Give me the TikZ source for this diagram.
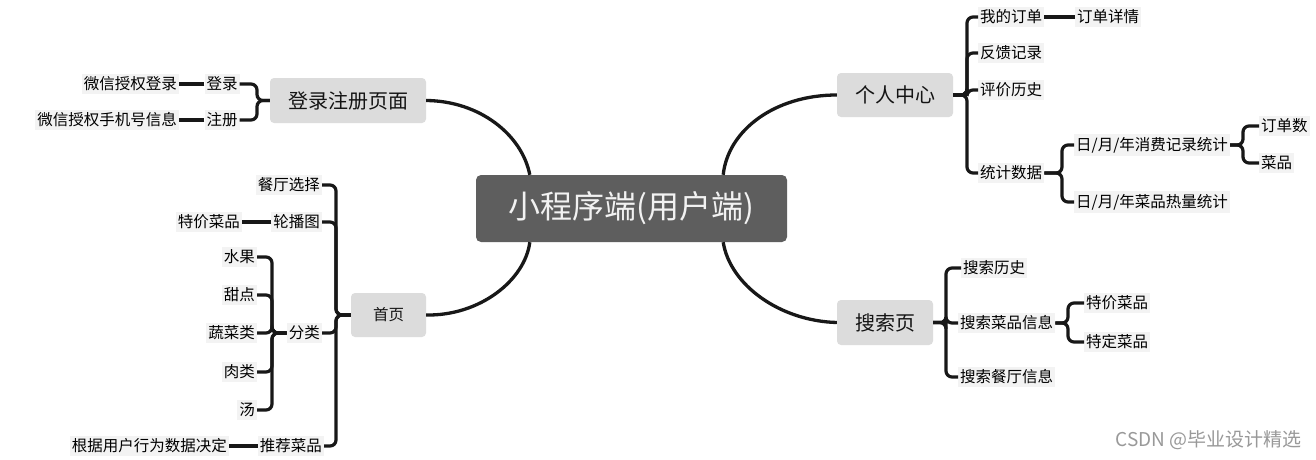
\documentclass[tikz,border=0pt]{standalone}
\usepackage{fontspec}
\setmainfont{Noto Sans CJK SC}
\usetikzlibrary{calc}
\definecolor{linec}{HTML}{181818}
\definecolor{leafbg}{HTML}{F3F3F3}
\definecolor{topicbg}{HTML}{DCDCDC}
\definecolor{rootbg}{HTML}{5E5E5E}
\begin{document}
\begin{tikzpicture}[x=1pt,y=-1pt,
  conn/.style={draw=linec,line width=3.2pt,rounded corners=6pt},
  curve/.style={draw=linec,line width=3.3pt},
  leaf/.style={fill=leafbg,inner xsep=2pt,inner ysep=3pt,font=\fontsize{15.5}{17}\selectfont,text=black},
  topic/.style={fill=topicbg,rounded corners=4pt,inner sep=0pt,font=\fontsize{20}{22}\selectfont,text=black!92},
  rootnode/.style={fill=rootbg,rounded corners=5pt,inner sep=0pt,font=\fontsize{32}{34}\selectfont,text=white!95!black}]
\useasboundingbox[fill=white] (0,0) rectangle (1316,460);

% root and topics
\node[rootnode,minimum width=311pt,minimum height=67pt] (root) at (631.5,208.5) {小程序端(用户端)};
\node[topic,minimum width=156pt,minimum height=45pt] (login) at (348,100.5) {登录注册页面};
\node[topic,minimum width=116pt,minimum height=44pt] (me) at (895,95) {个人中心};
\node[topic,minimum width=96pt,minimum height=45pt] (search) at (885,322.5) {搜索页};
\node[topic,minimum width=75pt,minimum height=44pt,font=\fontsize{15.5}{17}\selectfont] (home) at (388.5,315) {首页};

% root curves
\draw[curve] (login.east) .. controls (480,101) and (522,135) .. ($(root.north west)+(54,0)$);
\draw[curve] (home.east) .. controls (480,316) and (525,280) .. ($(root.south west)+(54,0)$);
\draw[curve] ($(root.north east)+(-64,0)$) .. controls (728,130) and (775,95) .. (me.west);
\draw[curve] ($(root.south east)+(-64,0)$) .. controls (730,285) and (780,321) .. (search.west);

% login branch
\coordinate (sp1) at (257,0);
\node[leaf] (dl) at (222,84) {登录};
\node[leaf] (zc) at (222,120) {注册};
\node[leaf,anchor=east] (wx1) at (179,84) {微信授权登录};
\node[leaf,anchor=east] (wx2) at (179,120) {微信授权手机号信息};
\draw[conn] (login.west) -- (login.west -| sp1) |- (dl.east);
\draw[conn] (login.west) -- (login.west -| sp1) |- (zc.east);
\draw[conn] (dl.west) -- (wx1.east);
\draw[conn] (zc.west) -- (wx2.east);

% home branch
\coordinate (sp2) at (336,0);
\node[leaf,anchor=east] (ct) at (322,185) {餐厅选择};
\node[leaf,anchor=east] (lbt) at (322,222) {轮播图};
\node[leaf,anchor=east] (tj1) at (242,222) {特价菜品};
\node[leaf,anchor=east] (fl) at (322,333) {分类};
\node[leaf,anchor=east] (tjcp1) at (324,446) {推荐菜品};
\node[leaf,anchor=east] (gj) at (229,446) {根据用户行为数据决定};
\draw[conn] (home.west) -- (home.west -| sp2) |- (ct.east);
\draw[conn] (home.west) -- (home.west -| sp2) |- (lbt.east);
\draw[conn] (home.west) -- (home.west -| sp2) |- (fl.east);
\draw[conn] (home.west) -- (home.west -| sp2) |- (tjcp1.east);
\draw[conn] (lbt.west) -- (tj1.east);
\draw[conn] (tjcp1.west) -- (gj.east);

% 分类 branch
\coordinate (sp3) at (272,0);
\node[leaf,anchor=east] (sg) at (257,257) {水果};
\node[leaf,anchor=east] (td) at (257,295) {甜点};
\node[leaf,anchor=east] (scl) at (257,333) {蔬菜类};
\node[leaf,anchor=east] (rl) at (257,372) {肉类};
\node[leaf,anchor=east] (tang) at (257,410) {汤};
\foreach \c in {sg,td,scl,rl,tang}
  \draw[conn] (fl.west) -- (fl.west -| sp3) |- (\c.east);

% 个人中心 branch
\coordinate (sp4) at (967,0);
\node[leaf,anchor=west] (wddd) at (978,17) {我的订单};
\node[leaf,anchor=west] (ddxq) at (1075,17) {订单详情};
\node[leaf,anchor=west] (fkjl) at (978,53) {反馈记录};
\node[leaf,anchor=west] (pjls) at (978,90) {评价历史};
\node[leaf,anchor=west] (tjsj) at (978,173) {统计数据};
\foreach \c in {wddd,fkjl,pjls,tjsj}
  \draw[conn] (me.east) -- (me.east -| sp4) |- (\c.west);
\draw[conn] (wddd.east) -- (ddxq.west);

\coordinate (sp5) at (1062,0);
\node[leaf,anchor=west] (xf) at (1074,145) {日/月/年消费记录统计};
\node[leaf,anchor=west] (rlt) at (1074,202) {日/月/年菜品热量统计};
\foreach \c in {xf,rlt}
  \draw[conn] (tjsj.east) -- (tjsj.east -| sp5) |- (\c.west);

\coordinate (sp6) at (1243,0);
\node[leaf,anchor=west] (dds) at (1259,126) {订单数};
\node[leaf,anchor=west] (cp) at (1259,163) {菜品};
\foreach \c in {dds,cp}
  \draw[conn] (xf.east) -- (xf.east -| sp6) |- (\c.west);

% 搜索页 branch
\coordinate (sp7) at (946,0);
\node[leaf,anchor=west] (ssls) at (961,268) {搜索历史};
\node[leaf,anchor=west] (sscp) at (958,323) {搜索菜品信息};
\node[leaf,anchor=west] (ssct) at (958,377) {搜索餐厅信息};
\foreach \c in {ssls,sscp,ssct}
  \draw[conn] (search.east) -- (search.east -| sp7) |- (\c.west);

\coordinate (sp8) at (1068,0);
\node[leaf,anchor=west] (tjcp) at (1084,303) {特价菜品};
\node[leaf,anchor=west] (tdcp) at (1084,342) {特定菜品};
\foreach \c in {tjcp,tdcp}
  \draw[conn] (sscp.east) -- (sscp.east -| sp8) |- (\c.west);

% watermark
\node[anchor=east,inner sep=0pt,text=black!40,font=\fontsize{19}{21}\selectfont] (wm) at (1302,440) {CSDN @毕业设计精选};
\end{tikzpicture}
\end{document}
